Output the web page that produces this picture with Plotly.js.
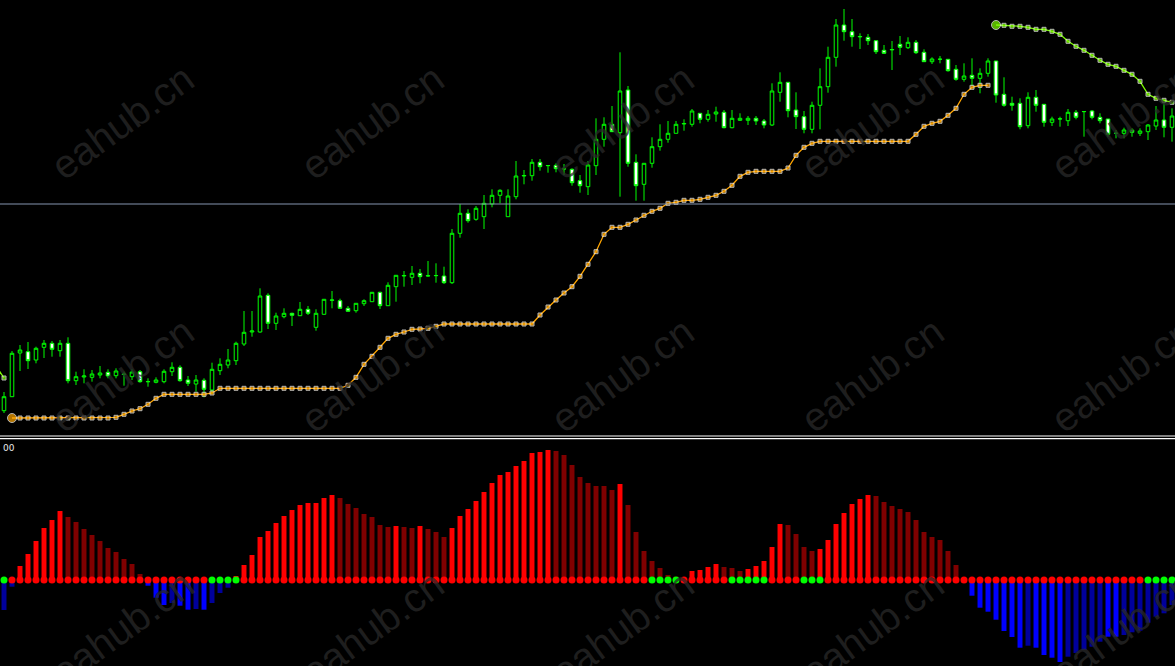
<!DOCTYPE html>
<html><head><meta charset="utf-8">
<script src="https://cdn.plot.ly/plotly-3.0.1.min.js"></script>
<style>html,body{margin:0;padding:0;background:#000;overflow:hidden}#chart{width:1175px;height:666px}</style>
</head><body><div id="chart"></div>
<script>
// ---- price candles (arbitrary price units) ----
const openP = [39.3,53.3,97,98.3,90,102.7,106.7,99.3,106.7,69.3, 73,72.7,75,77.7,74.3,75.5,73.3,78.3,68.5,67.7, 68.3,78.3,82.7,70,66,69.7,60,79.3,85,89.3, 106,118,118,154.7,126.7,133.3,136.7,134.3,140.7,122.7, 135.7,149.7,149.3,141.7,139.3,146.3,148.3,157.7,144.3,163.3, 174,172.7,176.7,174,174.3,174,167.3,216.7,236.7,230.7, 233.3,246,254.7,233.3,253.3,274,274.3,287.7,284.3,284.7, 281,280.7,269.3,263.3,284.3,310.7,325.7,317.3,360,287.7, 265.7,286.7,303.3,310.7,316.7,326,325.7,336.7,330.7,336, 337.7,322.3,329.7,329.7,331.7,329,325,357.7,367.7,340, 333.3,320.7,344.7,363.3,392.7,425,418.3,413.1,412.7,409.3, 399.7,400.1,405.7,402.3,407.7,397.7,388.3,390.7,390.7,380.7, 370.7,374.7,371.7,376.7,389,355.7,346.7,346.7,324.3,352.7, 345.7,327.7,331,329.3,337.7,338.3,339,332.7,331,316.7, 316.7,320,316.7,318.3,324,330,322.7];
const highP = [58,99,105,108,103.3,110,109,110,112.7,78.3, 80.7,80,84,80.7,81.7,78.3,80.7,80,71.7,72.7, 80.7,87.7,84.7,74,75,71.7,87.3,91.7,101,108.3, 139,139,161.7,156.7,137.3,141.7,137.3,148,144,140.7, 151,159,151.3,144,146.7,150.7,158,158.3,167.7,175, 179,184,181,189,186.7,183.3,221,246,240.7,244, 255,260.7,260.7,260.7,289,280,291,291,285,286.7, 286,281.7,275,289,331.7,332.7,344,397.7,364,295.7, 286.7,312.7,325.7,329,329,330.7,341,336.7,340,343.3, 340,340,336.7,334,334,331,366.7,377.7,367.7,357.7, 339,348.3,381.7,403.3,431,441,431,416.7,416,409.3, 405,409,414,412.7,410,400.7,392.7,394,390.7,385, 386.7,391.7,381.7,391.7,389,372.7,353.3,351.7,357.7,360, 345.7,333.3,333.3,341,340,338.5,340,336.7,331,320, 322.3,321.7,321.7,326,344,350,341.7];
const lowP = [37,53,79,81,86.7,92,93.3,93.3,66.7,65, 66.7,68.3,71.7,71.7,71.7,64.3,70,67.3,63.3,66.7, 66.7,74,68.3,64,58.3,52.7,56,75,81.7,85, 104,113.3,117.3,121,120,131.7,124,134,135,119.3, 135.5,141.7,141.3,138.7,137.3,144,148.3,141,144.3,148.3, 163.3,165,166.7,173.3,167.3,166,166,212.3,227.3,229.3, 221,242.7,246.7,233.3,250.7,265.7,269.3,279.3,277.3,277.7, 275,264.3,257.3,255,275,303.3,318.3,253.3,283.3,249.3, 249.3,282.3,299.3,307.3,316.7,319.3,323.3,326.7,328.3,328.3, 321.7,321.7,329,325,325,321.7,324,348.3,332.7,321, 316.7,316.7,320.7,357.3,383.3,409.3,403.3,401,405,396, 396,380,395,401,396,388.3,386,386.7,378.3,369.3, 368.3,364,356.7,373.3,347.3,343.3,339.3,320.7,321.7,338.3, 323.3,324,323.3,324,330.7,313.3,330.7,326.7,313.3,311.7, 311.7,313.3,314,310,320,312.7,308.3];
const closeP = [53.3,96.7,100,89.3,101.7,106.7,100.7,106.7,69.3,73.3, 74,76,77,74,79,76,78,68.3,68.3,70, 78.7,82.7,69.3,66.7,70,60.7,80.7,85.7,90,106.7, 117.7,119,154,126.7,134,136.7,134.7,140.7,136.7,136.7, 150.7,150,141.7,138.7,146.7,149.3,157.7,144.3,164.7,174.7, 174.5,176.7,173.3,174.3,174.5,167.3,216.7,236.7,229.3,241.7, 246.7,254.7,259.7,254,274,274.5,287.7,283.3,284.5,281.3, 281.2,267.3,264.3,285,310.7,325.7,318.3,359,286.7,264.3, 286.7,303.3,310.7,316.7,325.7,326.5,339,330.7,335.7,338, 322.3,331.7,331.7,331.7,329,325,359,367.7,339.3,333.3, 320.7,344.7,363.3,392.7,425,418.3,413.3,413.5,409.3,398.3, 396.7,400.5,402.7,407.7,397.3,388.3,391,390.8,379.3,370.7, 374,371.7,376.7,389,355,344.7,344.7,323.3,352.7,344.7, 327.7,331,331.2,337.7,332.7,338.5,332.7,329.3,315.7,316.8, 320,317.7,319,325,330,322.7,334];

// ---- orange trailing stop (up trend), starts at bar 1 ----
const trailUp = [null,32,32,32,32,32,32,32,32,32, 32,32,32,32,32.7,35.7,39,41.3,45.7,51.7, 55.7,55.7,55.7,55.7,55.7,55.7,57,61.7,61.7,61.7, 61.7,61.7,61.7,61.7,61.7,61.7,61.7,61.7,61.7,61.7, 61.7,61.7,61.7,64.7,72.7,85.7,93.7,102.7,111.7,115.7, 118,120.7,121,121.7,123.7,126,126,126,126,126, 126,126,126,126,126,126,126,135,143,150, 157,163.3,173.7,185.7,198.3,215.7,222.7,222.7,225.7,230, 234.7,238.7,241.7,246.7,247.7,249.7,249.7,250.7,252.7,254.7, 258.7,264.7,273.7,277.7,278.7,278.7,278.7,278.7,282,294.7, 302.7,306.7,308.7,308.7,308.7,308.7,308.7,308.7,308.7,308.7, 308.7,308.7,308.7,308.7,315.7,323.7,326.7,328.7,334.7,341.7, 355.7,362.7,364.7,364.7];
const trailUpStart = 1;

// ---- lime trailing stop (down trend) ----
const trailDnX = [-1,0,0.5, 124,125,126,127,128,129,130,131,132,133,134,135,136,137,138,139,140,141,142,143,144,145,146];
const trailDn  = [84,72,null, 425,424.7,423.7,423.7,422.7,420.7,420.7,418.7,415.7,408.7,403.7,399.7,394.7,389.7,385.7,383.7,379.7,375.7,368.7,355.7,351.7,349.7,347.7];
const trailDnStart = 124;

// ---- horizontal level ----
const levelLine = 246;

// ---- oscillator histogram ----
const histVal = [-30,-6.7,14,26,39,52,60,69,63,58, 51,45,39,32,28,21,16,6,-5.7,-17.7, -25,-23,-25.7,-29.7,-29,-29.7,-23,-13,-7.7,4, 15,25,43,49,57,64,70,75,77,77, 82,85,82,76,72,66,63,55,53,54, 53,52,54,51,48,43,52,64,71,79, 88,97,105,108,114,119,127,128,130,129, 125,115,103,97,94,94,90,96,75,48, 29,19,12,5,3.3,1,9,10,13,16, 13,12,9,11,14,19,33,56,55,46, 33,29,31,40,56,67,76,81,85,84, 78,74,71,68,60,48,43,40,29,15, 0,-15.7,-27.7,-31.7,-39.7,-51,-57,-67.7,-65.7,-67.7, -75,-77.7,-82,-76.7,-73,-70,-66.7,-61.7,-56.7,-56.7, -55,-52.3,-50.7,-42.7,-36.7,-33.3,-25];
// R = rising up, r = falling up, B = falling down, b = rising down
const histState = ['b','b','R','R','R','R','R','R','r','r', 'r','r','r','r','r','r','r','r','B','B', 'B','b','B','B','b','B','b','b','b','R', 'R','R','R','R','R','R','R','R','R','R', 'R','R','r','r','r','r','r','r','r','R', 'r','r','R','r','r','r','R','R','R','R', 'R','R','R','R','R','R','R','R','R','r', 'r','r','r','r','r','r','r','R','r','r', 'r','r','r','r','r','R','R','R','R','R', 'r','r','r','R','R','R','R','R','r','r', 'r','r','R','R','R','R','R','R','R','r', 'r','r','r','r','r','r','r','r','r','r', 'r','B','B','B','B','B','B','B','b','B', 'B','B','B','b','b','b','b','b','B','B', 'b','b','b','b','b','b','b'];
// zero-line signal dots: g = green, r = red
const dotState = ['g','r','r','r','r','r','r','r','r','r', 'r','r','r','r','r','r','r','r','r','r', 'r','r','r','r','r','r','g','g','g','g', 'r','r','r','r','r','r','r','r','r','r', 'r','r','r','r','r','r','r','r','r','r', 'r','r','r','r','r','r','r','r','r','r', 'r','r','r','r','r','r','r','r','r','r', 'r','r','r','r','r','r','r','r','r','r', 'r','g','g','g','g','r','r','r','r','r', 'r','g','g','g','g','g','r','r','r','r', 'g','g','g','r','r','r','r','r','r','r', 'r','r','r','r','r','r','r','r','r','r', 'r','r','r','r','r','r','r','r','r','r', 'r','r','r','r','r','r','r','r','r','r', 'r','r','r','g','g','g','g'];
const dotLevel = 0;
const watermarkText = 'eahub.cn';
const cornerLabel = '00';

// ---- build ----
const idx = openP.map((_, k) => k);
const histColorMap = {R:'#ff0000', r:'#800000', B:'#0000ff', b:'#00009c'};
const dotColorMap = {g:'#00ff00', r:'#ff0000'};
const W = 1175, H = 666;
const upperBottom = 434, lowerTop = 440;

const traces = [
  {type:'candlestick', x: idx, open: openP, high: highP, low: lowP, close: closeP,
   xaxis:'x', yaxis:'y', whiskerwidth:0, hoverinfo:'skip',
   increasing:{line:{color:'#00ff00', width:1}, fillcolor:'#000000'},
   decreasing:{line:{color:'#00ff00', width:1}, fillcolor:'#ffffff'}},
  {type:'scatter', mode:'lines+markers', x: idx.slice(0, trailUp.length), y: trailUp, yaxis:'y',
   line:{color:'#ffa500', width:1.3},
   marker:{color:'#ffa500', symbol: trailUp.map((v,k)=> k===trailUpStart ? 'circle' : 'square'),
           size: trailUp.map((v,k)=> k===trailUpStart ? 9 : 4)}, hoverinfo:'skip'},
  {type:'scatter', mode:'lines+markers', x: trailDnX, y: trailDn, yaxis:'y', connectgaps:false,
   line:{color:'#7cfc00', width:1.3},
   marker:{color:'#7cfc00', symbol: trailDnX.map(x=> x===trailDnStart ? 'circle' : 'square'),
           size: trailDnX.map(x=> x===trailDnStart ? 9 : 4)}, hoverinfo:'skip'},
  {type:'bar', x: idx, y: histVal, yaxis:'y2', width:0.62,
   marker:{color: histState.map(s=>histColorMap[s]), line:{width:0}}, hoverinfo:'skip'},
  {type:'scatter', mode:'markers', x: idx, y: idx.map(()=>dotLevel), yaxis:'y2',
   marker:{color: dotState.map(s=>dotColorMap[s]), size:7}, hoverinfo:'skip', cliponaxis:false}
];

const annotations = [];
[122, 375, 628].forEach(py => {
  [122, 372, 622, 872, 1122].forEach(px => {
    annotations.push({xref:'paper', yref:'paper', x: px/W, y: 1 - py/H, text: watermarkText,
      showarrow:false, textangle:-36, xanchor:'center', yanchor:'middle',
      font:{family:'Liberation Sans, Arial, sans-serif', size:40, color:'rgba(40,40,40,0.75)'}});
  });
});
annotations.push({xref:'paper', yref:'paper', x: 0.5/W, y: 1 - 447.5/H, text: cornerLabel,
  showarrow:false, xanchor:'left', yanchor:'middle',
  font:{family:'DejaVu Sans, sans-serif', size:9, color:'#e8e8e8'}});

const layout = {
  width: W, height: H, margin:{l:0, r:0, t:0, b:0},
  paper_bgcolor:'#000000', plot_bgcolor:'#000000', showlegend:false, hovermode:false,
  boxgap: 0.36,
  xaxis:{range:[-0.5, 146.375], showgrid:false, zeroline:false, showticklabels:false,
         ticks:'', showline:false, rangeslider:{visible:false}, fixedrange:true},
  yaxis:{domain:[1 - upperBottom/H, 1], range:[16, 450], showgrid:false, zeroline:false,
         showticklabels:false, ticks:'', fixedrange:true},
  yaxis2:{domain:[0, 1 - lowerTop/H], range:[-86, 140], showgrid:false, zeroline:false,
          showticklabels:false, ticks:'', fixedrange:true},
  shapes:[
    {type:'line', xref:'paper', x0:0, x1:1, yref:'y', y0:levelLine, y1:levelLine,
     line:{color:'#8595b0', width:1}},
    {type:'line', xref:'paper', x0:0, x1:1, yref:'paper', y0:1-436/H, y1:1-436/H,
     line:{color:'#ffffff', width:1.2}},
    {type:'line', xref:'paper', x0:0, x1:1, yref:'paper', y0:1-438.6/H, y1:1-438.6/H,
     line:{color:'#ffffff', width:1.2}}
  ],
  annotations: annotations
};

Plotly.newPlot('chart', traces, layout, {staticPlot:true, displayModeBar:false});
</script>
</body></html>
